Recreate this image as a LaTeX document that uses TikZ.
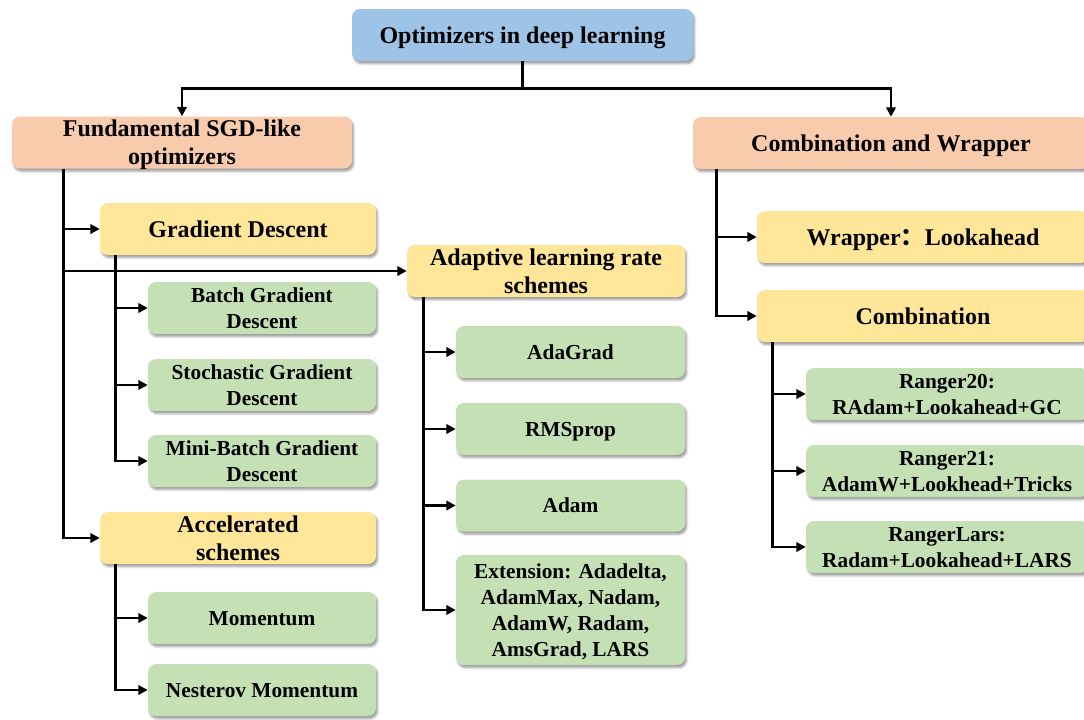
\documentclass[tikz,border=0pt]{standalone}
\usepackage{fontspec}
\setmainfont{Liberation Serif}
\newfontfamily\cjk{Noto Sans CJK SC}
\usetikzlibrary{positioning,arrows.meta,shadows.blur}
\definecolor{topblue}{HTML}{9DC3E6}
\definecolor{salmon}{HTML}{F8CBAD}
\definecolor{sand}{HTML}{FFE699}
\definecolor{sage}{HTML}{C5E0B4}
\tikzset{
  flow/.style={-{Triangle[length=7pt,width=7pt]}, line width=2pt, color=black},
  link/.style={line width=2pt, color=black},
  soft shadow/.style={blur shadow={shadow blur steps=6, shadow xshift=1.2pt,
    shadow yshift=-2pt, shadow blur radius=1.6pt, shadow opacity=40}},
  blk/.style={rounded corners=6pt, fill=#1, soft shadow, align=center, inner sep=0pt,
    text depth=0pt, minimum height=39pt, font=\bfseries\fontsize{18}{21}\selectfont},
  blk/.default=sand,
  leaf/.style={blk=sage, font=\bfseries\fontsize{16}{19.5}\selectfont},
}

\begin{document}
\begin{tikzpicture}[x=0.75pt,y=-0.75pt]
  \useasboundingbox (0,0) rectangle (1084,719);
  % root and first level
  \node[blk=topblue, minimum width=255.75pt] (root) at (522.5,35) {Optimizers in deep learning};
  \node[blk=salmon, minimum width=255pt] (fund) at (182,142.5) {Fundamental SGD-like\\optimizers};
  \node[blk=salmon, minimum width=297pt] (cw) at (891,143) {Combination and Wrapper};
  % second level
  \node[blk, minimum width=207pt] (gd) at (238,229) {Gradient Descent};
  \node[blk, minimum width=208.5pt] (ada) at (546,271) {Adaptive learning rate\\schemes};
  \node[blk, minimum width=207pt] (acc) at (238,538) {Accelerated\\schemes};
  \node[blk, minimum width=249pt] (wrap) at (923,237) {Wrapper{\cjk ：}Lookahead};
  \node[blk, minimum width=249pt] (comb) at (923,316) {Combination};
  % leaves
  \node[leaf, minimum width=171pt] (bgd) at (262,308) {Batch Gradient\\Descent};
  \node[leaf, minimum width=171pt] (sgd) at (262,385) {Stochastic Gradient\\Descent};
  \node[leaf, minimum width=171pt] (mbgd) at (262,461) {Mini-Batch Gradient\\Descent};
  \node[leaf, minimum width=171pt] (mom) at (262,618) {Momentum};
  \node[leaf, minimum width=171pt] (nest) at (262,690) {Nesterov Momentum};
  \node[leaf, minimum width=171.75pt] (adagrad) at (570.5,352) {AdaGrad};
  \node[leaf, minimum width=171.75pt] (rms) at (570.5,429) {RMSprop};
  \node[leaf, minimum width=171.75pt] (adam) at (570.5,505.5) {Adam};
  \node[leaf, minimum width=171.75pt, minimum height=82.5pt] (ext) at (570.5,610)
    {Extension: Adadelta,\\AdamMax, Nadam,\\AdamW, Radam,\\AmsGrad, LARS};
  \node[leaf, minimum width=211.5pt] (r20) at (947,394) {Ranger20:\\RAdam+Lookahead+GC};
  \node[leaf, minimum width=211.5pt] (r21) at (947,471) {Ranger21:\\AdamW+Lookhead+Tricks};
  \node[leaf, minimum width=211.5pt] (rlars) at (947,547) {RangerLars:\\Radam+Lookahead+LARS};
  % connectors
  \draw[link] (root.south) -- ++(0,27) coordinate (split);
  \draw[flow] (split) -| (fund.north);
  \draw[flow] (split) -| (cw.north);
  \foreach \c in {gd,ada,acc} \draw[flow] (fund.south west) ++(52,0) |- (\c.west);
  \foreach \c in {bgd,sgd,mbgd} \draw[flow] (gd.south west) ++(16,0) |- (\c.west);
  \foreach \c in {mom,nest} \draw[flow] (acc.south west) ++(16,0) |- (\c.west);
  \foreach \c in {adagrad,rms,adam,ext} \draw[flow] (ada.south west) ++(17,0) |- (\c.west);
  \foreach \c in {wrap,comb} \draw[flow] (cw.south west) ++(24,0) |- (\c.west);
  \foreach \c in {r20,r21,rlars} \draw[flow] (comb.south west) ++(16,0) |- (\c.west);
\end{tikzpicture}
\end{document}
